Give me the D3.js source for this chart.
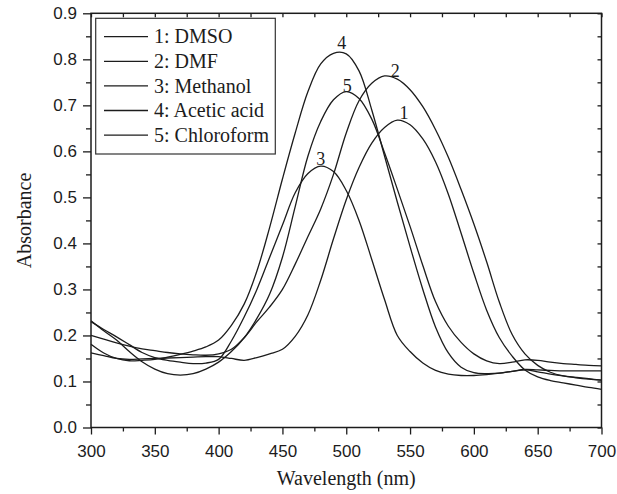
<!DOCTYPE html>
<html>
<head>
<meta charset="utf-8">
<script src="https://cdn.jsdelivr.net/npm/d3@7"></script>
<style>
  html, body { margin: 0; padding: 0; background: #fff; }
  svg { display: block; }
</style>
</head>
<body>
<div id="chart"></div>
<script>
// ---------- DATA ----------
const wavelengths = [300,310,320,330,340,350,360,370,380,390,400,410,420,430,440,450,460,470,480,490,500,
                     510,520,530,540,550,560,570,580,590,600,610,620,630,640,650,660,670,680,690,700];

const dmso = [0.162,0.156,0.150,0.148,0.149,0.150,0.151,0.152,0.153,0.154,0.154,0.150,0.146,0.152,0.160,0.170,0.198,0.245,0.320,0.410,0.495,
              0.565,0.618,0.652,0.668,0.658,0.627,0.577,0.507,0.422,0.335,0.255,0.195,0.155,0.125,0.110,0.102,0.097,0.092,0.087,0.083];

const dmf = [0.200,0.192,0.184,0.177,0.171,0.167,0.163,0.160,0.158,0.157,0.160,0.170,0.195,0.230,0.262,0.300,0.355,0.415,0.475,0.550,0.640,
             0.710,0.748,0.764,0.757,0.734,0.697,0.647,0.587,0.517,0.442,0.360,0.272,0.202,0.160,0.135,0.120,0.112,0.108,0.105,0.103];

const methanol = [0.230,0.213,0.197,0.180,0.163,0.152,0.146,0.142,0.139,0.140,0.148,0.188,0.240,0.300,0.370,0.440,0.510,0.552,0.568,0.556,0.515,
                  0.450,0.365,0.278,0.200,0.165,0.140,0.124,0.116,0.113,0.113,0.115,0.118,0.122,0.126,0.125,0.124,0.123,0.123,0.123,0.123];

const aceticAcid = [0.181,0.162,0.150,0.145,0.146,0.148,0.153,0.159,0.166,0.175,0.190,0.222,0.268,0.340,0.435,0.540,0.640,0.730,0.790,0.813,0.812,
                    0.775,0.690,0.590,0.490,0.393,0.300,0.218,0.162,0.131,0.119,0.117,0.118,0.122,0.125,0.121,0.116,0.112,0.109,0.106,0.103];

const chloroform = [0.232,0.210,0.190,0.165,0.143,0.127,0.117,0.114,0.117,0.127,0.142,0.165,0.195,0.237,0.290,0.370,0.480,0.590,0.665,0.712,0.730,
                    0.715,0.670,0.597,0.518,0.437,0.352,0.273,0.220,0.185,0.160,0.145,0.139,0.142,0.147,0.146,0.142,0.139,0.137,0.135,0.134];

const seriesNames = ["1: DMSO", "2: DMF", "3: Methanol", "4: Acetic acid", "5: Chloroform"];
const seriesValues = [dmso, dmf, methanol, aceticAcid, chloroform];

// peak annotation labels (data coordinates of text anchor / baseline)
const peakLabels = ["1", "2", "3", "4", "5"];
const peakLabelW = [545.2, 538.4, 480.0, 496.4, 500.8];
const peakLabelV = [0.670, 0.762, 0.570, 0.822, 0.730];

const xMajorTicks = [300,350,400,450,500,550,600,650,700];
const yMajorTicks = [0.0,0.1,0.2,0.3,0.4,0.5,0.6,0.7,0.8,0.9];

// ---------- LAYOUT ----------
const W = 617, H = 494;
const pL = 91, pR = 601.5, pT = 13.3, pB = 427.5;
const serif = '"Liberation Serif", "Times New Roman", serif';
const sans = '"Liberation Sans", Arial, sans-serif';
const ink = "#1c1c1c";

const svg = d3.select("#chart").append("svg")
  .attr("width", W).attr("height", H);

const x = d3.scaleLinear().domain([300, 700]).range([pL, pR]);
const y = d3.scaleLinear().domain([0, 0.9]).range([pB, pT]);

const xMinor = d3.range(325, 700, 50);
const yMinor = d3.range(0.05, 0.9, 0.1);
const xAll = d3.range(300, 701, 25);
const yAll = d3.range(0, 0.9001, 0.05);

// curves
const line = d3.line()
  .x((d, i) => x(wavelengths[i]))
  .y(d => y(d))
  .curve(d3.curveCatmullRom.alpha(0.5));

svg.append("g").selectAll("path")
  .data(seriesValues)
  .join("path")
  .attr("d", d => line(d))
  .attr("fill", "none")
  .attr("stroke", ink)
  .attr("stroke-width", 1.3);

// frame
svg.append("rect")
  .attr("x", pL).attr("y", pT)
  .attr("width", pR - pL).attr("height", pB - pT)
  .attr("fill", "none").attr("stroke", ink).attr("stroke-width", 1.5);

function styleAxis(g) {
  g.select(".domain").remove();
  g.selectAll(".tick line").attr("stroke", ink).attr("stroke-width", 1.3);
  g.selectAll(".tick text").attr("fill", ink).style("font-family", sans).style("font-size", "17px");
}

// bottom major
svg.append("g").attr("transform", `translate(0,${pB})`)
  .call(d3.axisBottom(x).tickValues(xMajorTicks).tickSize(7).tickPadding(10).tickFormat(d3.format("d")))
  .call(styleAxis);
// bottom minor
svg.append("g").attr("transform", `translate(0,${pB})`)
  .call(d3.axisBottom(x).tickValues(xMinor).tickSize(4).tickFormat(""))
  .call(styleAxis);
// left major
svg.append("g").attr("transform", `translate(${pL},0)`)
  .call(d3.axisLeft(y).tickValues(yMajorTicks).tickSize(8).tickPadding(6).tickFormat(d3.format(".1f")))
  .call(styleAxis);
// left minor
svg.append("g").attr("transform", `translate(${pL},0)`)
  .call(d3.axisLeft(y).tickValues(yMinor).tickSize(5).tickFormat(""))
  .call(styleAxis);
// top inward
svg.append("g").attr("transform", `translate(0,${pT})`)
  .call(d3.axisTop(x).tickValues(xAll).tickSize(-4).tickFormat(""))
  .call(styleAxis);
// right inward
svg.append("g").attr("transform", `translate(${pR},0)`)
  .call(d3.axisRight(y).tickValues(yAll).tickSize(-4).tickFormat(""))
  .call(styleAxis);

// axis titles
svg.append("text")
  .attr("x", (pL + pR) / 2).attr("y", 485)
  .attr("text-anchor", "middle")
  .style("font-family", serif).style("font-size", "20px").attr("fill", ink)
  .text("Wavelength (nm)");

svg.append("text")
  .attr("transform", `translate(31,${(pT + pB) / 2}) rotate(-90)`)
  .attr("text-anchor", "middle")
  .style("font-family", serif).style("font-size", "20px").attr("fill", ink)
  .text("Absorbance");

// peak labels
svg.append("g").selectAll("text")
  .data(peakLabels)
  .join("text")
  .attr("x", (d, i) => x(peakLabelW[i]))
  .attr("y", (d, i) => y(peakLabelV[i]))
  .attr("text-anchor", "middle")
  .style("font-family", serif).style("font-size", "18px").attr("fill", ink)
  .text(d => d);

// legend
const lg = svg.append("g");
lg.append("rect")
  .attr("x", 95.7).attr("y", 18.3).attr("width", 179.6).attr("height", 135.7)
  .attr("fill", "#fff").attr("stroke", "#333").attr("stroke-width", 1.2);
const rowY = i => 36.7 + i * 24.6;
lg.selectAll("line")
  .data(seriesNames)
  .join("line")
  .attr("x1", 104).attr("x2", 148)
  .attr("y1", (d, i) => rowY(i)).attr("y2", (d, i) => rowY(i))
  .attr("stroke", ink).attr("stroke-width", 1.3);
lg.selectAll("text")
  .data(seriesNames)
  .join("text")
  .attr("x", 154).attr("y", (d, i) => rowY(i) + 6.7)
  .style("font-family", serif).style("font-size", "20px").attr("fill", ink)
  .text(d => d);
</script>
</body>
</html>
